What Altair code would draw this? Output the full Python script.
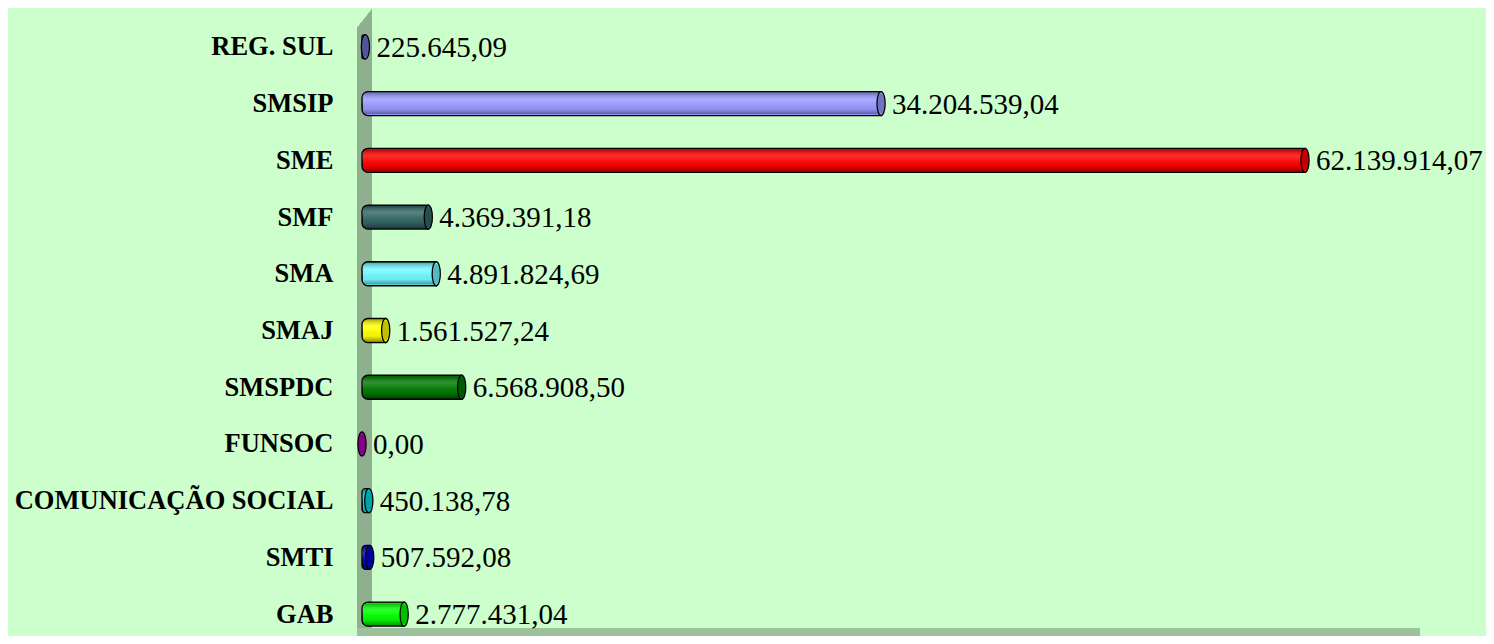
import altair as alt
import pandas as pd

categories = ["REG. SUL", "SMSIP", "SME", "SMF", "SMA", "SMAJ", "SMSPDC",
              "FUNSOC", "COMUNICAÇÃO SOCIAL", "SMTI", "GAB"]
values = [225645.09, 34204539.04, 62139914.07, 4369391.18, 4891824.69,
          1561527.24, 6568908.50, 0.00, 450138.78, 507592.08, 2777431.04]
value_labels = ["225.645,09", "34.204.539,04", "62.139.914,07", "4.369.391,18",
                "4.891.824,69", "1.561.527,24", "6.568.908,50", "0,00",
                "450.138,78", "507.592,08", "2.777.431,04"]
colors = ["#7070D0", "#9999FF", "#FF0000", "#336666", "#70F8FF", "#FFFF00",
          "#007A00", "#B000B0", "#00D8E0", "#0000D0", "#00FF00"]

df = pd.DataFrame({"cat": categories, "val": values, "lab": value_labels, "col": colors})

W, H = 1060, 607
BG = "#CCFFCC"
SERIF = "Liberation Serif"

y_enc = alt.Y("cat:N", sort=categories,
              scale=alt.Scale(type="point", padding=0.35),
              axis=alt.Axis(title=None, domain=False, ticks=False, grid=False,
                            labelFont=SERIF, labelFontSize=26.5, labelFontWeight="bold",
                            labelColor="#000000", labelPadding=29, labelLimit=400))
x_enc = alt.X("val:Q", scale=alt.Scale(domain=[0, 69850000], nice=False, zero=True),
              axis=None)
col_enc = alt.Color("col:N", scale=None, legend=None)

base = alt.Chart(df)

wall = base.mark_rect(color="#8FB08F").encode(
    x=alt.value(-5), x2=alt.value(10), y=alt.value(-19), y2=alt.value(603))
wall_cut = base.mark_point(shape="M-0.79,-1L0.79,-1L-0.79,1Z", size=361, filled=True,
                           opacity=1, color=BG, strokeWidth=0).encode(
    x=alt.value(2.5), y=alt.value(-9.5))
floor = base.mark_rect(color="#9DC09D").encode(
    x=alt.value(-5), x2=alt.value(1058), y=alt.value(601), y2=alt.value(612))

bars = base.mark_bar(size=24, cornerRadiusTopLeft=6, cornerRadiusBottomLeft=6,
                     stroke="#000000", strokeWidth=1.3).encode(
    y=y_enc, x=x_enc, color=col_enc)
shading = base.mark_bar(
    size=22, cornerRadiusTopLeft=5, cornerRadiusBottomLeft=5,
    color=alt.Gradient(
        gradient="linear", x1=0, y1=0, x2=0, y2=1,
        stops=[alt.GradientStop(offset=0, color="rgba(0,0,0,0.30)"),
               alt.GradientStop(offset=0.3, color="rgba(255,255,255,0.18)"),
               alt.GradientStop(offset=0.45, color="rgba(255,255,255,0.10)"),
               alt.GradientStop(offset=0.75, color="rgba(0,0,0,0.05)"),
               alt.GradientStop(offset=1, color="rgba(0,0,0,0.40)")])
).encode(y=y_enc, x=x_enc)

ELLIPSE = "M0,-1A0.34,1,0,1,1,0,1A0.34,1,0,1,1,0,-1Z"
cap = base.mark_point(shape=ELLIPSE, size=576, filled=True, opacity=1,
                      stroke="#000000", strokeWidth=1.3).encode(
    y=y_enc, x=x_enc, fill=alt.Fill("col:N", scale=None, legend=None))
cap_dark = base.mark_point(shape=ELLIPSE, size=400, filled=True, opacity=0.25,
                           color="#000000", strokeWidth=0).encode(y=y_enc, x=x_enc)

text = base.mark_text(align="left", baseline="middle", dx=11, dy=1,
                      font=SERIF, fontSize=29, color="#000000").encode(
    y=y_enc, x=x_enc, text="lab:N")

chart = alt.layer(wall, wall_cut, floor, bars, shading, cap, cap_dark, text).properties(
    width=W, height=H,
    autosize=alt.AutoSizeParams(type="none"),
    padding={"left": 354, "top": 19, "right": 64, "bottom": 2},
    background=BG,
).configure_view(stroke=None, fill=BG)

chart.save("out.html", embed_options={"renderer": "svg", "actions": False})
